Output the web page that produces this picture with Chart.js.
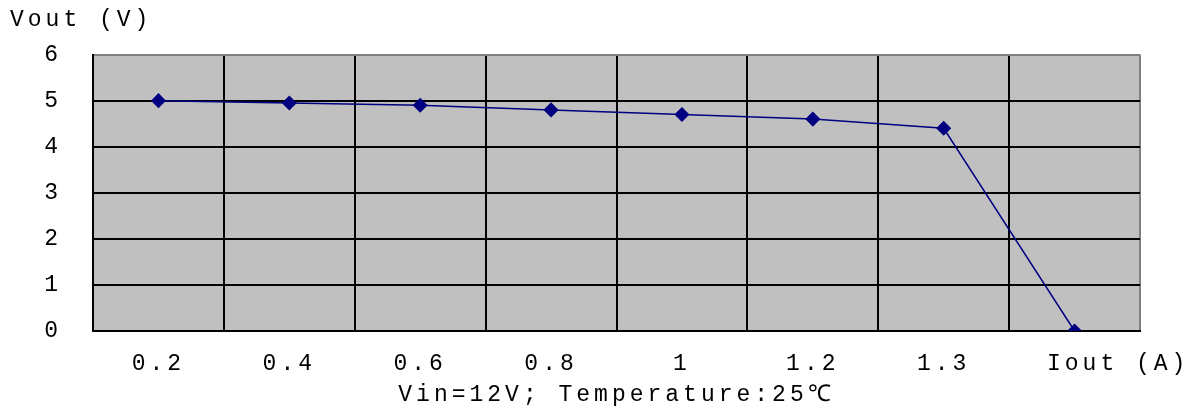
<!DOCTYPE html>
<html>
<head>
<meta charset="utf-8">
<script src="https://cdn.jsdelivr.net/npm/chart.js@4"></script>
<style>
html,body{margin:0;padding:0;background:#fff;}
#wrap{width:1195px;height:409px;position:relative;}
</style>
</head>
<body>
<div id="wrap"><canvas id="c"></canvas></div>
<script>
const categories = ['0.2', '0.4', '0.6', '0.8', '1', '1.2', '1.3', ''];
const vout = [5.0, 4.95, 4.9, 4.8, 4.7, 4.6, 4.4, 0];
const yTitle = 'Vout (V)';
const xEndLabel = 'Iout (A)';
const xTitle = 'Vin=12V; Temperature:25\u2103';

const FONT = "'Liberation Mono', 'DejaVu Sans Mono', monospace";
const SPACING = '4px';
const FSIZE = 23;

const spacingPlugin = {
  id: 'spacing',
  beforeUpdate(chart) { chart.ctx.letterSpacing = SPACING; },
  beforeLayout(chart) { chart.ctx.letterSpacing = SPACING; },
  beforeDraw(chart) {
    const ctx = chart.ctx;
    ctx.letterSpacing = SPACING;
    const a = chart.chartArea;
    ctx.save();
    ctx.fillStyle = '#c0c0c0';
    ctx.fillRect(a.left, a.top, a.right - a.left, a.bottom - a.top);
    ctx.restore();
  },
  afterDraw(chart) {
    const ctx = chart.ctx;
    const a = chart.chartArea;
    ctx.save();
    ctx.letterSpacing = SPACING;
    ctx.font = FSIZE + 'px ' + FONT;
    ctx.fillStyle = '#000';
    ctx.textAlign = 'left';
    ctx.textBaseline = 'middle';
    ctx.fillText(xEndLabel, 1047, a.bottom + 33);
    ctx.restore();
  }
};

new Chart(document.getElementById('c'), {
  type: 'line',
  data: {
    labels: categories,
    datasets: [{
      data: vout,
      borderColor: '#000080',
      backgroundColor: '#000080',
      borderWidth: 1.5,
      pointStyle: 'rectRot',
      pointRadius: 6.5,
      pointHoverRadius: 6.5,
      tension: 0
    }]
  },
  options: {
    responsive: true,
    maintainAspectRatio: false,
    animation: false,
    layout: { padding: { left: 10, right: 55, top: 0, bottom: 0 } },
    plugins: {
      legend: { display: false },
      tooltip: { enabled: false },
      title: {
        display: true,
        text: yTitle,
        align: 'start',
        color: '#000',
        font: { family: FONT, size: FSIZE, weight: 'normal', lineHeight: 1.2 },
        padding: { top: 6, bottom: 21 }
      }
    },
    scales: {
      x: {
        type: 'category',
        offset: true,
        grid: {
          offset: true,
          drawTicks: false,
          lineWidth: 2,
          color: (c) => (c.index === undefined ? '#808080' : '#000')
        },
        border: { display: true, color: '#000', width: 2 },
        ticks: {
          color: '#000',
          padding: 19,
          maxRotation: 0,
          autoSkip: false,
          font: { family: FONT, size: FSIZE }
        },
        title: {
          display: true,
          text: xTitle,
          color: '#000',
          font: { family: FONT, size: FSIZE },
          padding: { top: 0, bottom: 0 }
        },
        afterFit(s) { s.height = 78; }
      },
      y: {
        min: 0,
        max: 6,
        grid: {
          drawTicks: false,
          lineWidth: 2,
          color: (c) => (c.tick && c.tick.value === 6 ? '#808080' : '#000')
        },
        border: { display: true, color: '#000', width: 2 },
        ticks: {
          stepSize: 1,
          color: '#000',
          padding: 31,
          font: { family: FONT, size: FSIZE }
        },
        afterFit(s) { s.width = 83; }
      }
    }
  },
  plugins: [spacingPlugin]
});
</script>
</body>
</html>
